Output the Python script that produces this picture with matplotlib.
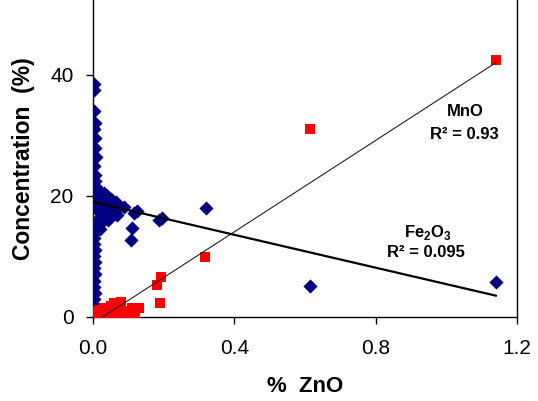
import matplotlib
matplotlib.use("Agg")
import matplotlib.pyplot as plt
import numpy as np

plt.rcParams["font.family"] = ["Liberation Sans", "DejaVu Sans"]
plt.rcParams["mathtext.fontset"] = "custom"
plt.rcParams["mathtext.rm"] = "Liberation Sans:bold"
plt.rcParams["mathtext.bf"] = "Liberation Sans:bold"

# Fe2O3 (blue diamonds)
fe_x = [0.003, 0.004, 0.003, 0.005, 0.004, 0.006, 0.005, 0.007, 0.004, 0.006,
        0.005, 0.008, 0.006, 0.004, 0.003, 0.005, 0.004, 0.006, 0.003, 0.005,
        0.004, 0.003, 0.005, 0.004, 0.003, 0.004, 0.002, 0.003,
        0.01, 0.015, 0.02, 0.025, 0.03, 0.035, 0.04, 0.045, 0.05, 0.055,
        0.01, 0.02, 0.03, 0.04, 0.05, 0.06, 0.012, 0.022, 0.032, 0.042,
        0.008, 0.018, 0.028, 0.015, 0.025, 0.01, 0.02, 0.065, 0.07,
        0.088, 0.117, 0.125, 0.188, 0.195, 0.11, 0.108, 0.068,
        0.321, 0.614, 1.14]
fe_y = [38.5, 37.5, 34.0, 32.0, 31.0, 29.5, 28.0, 26.5, 25.0, 23.5,
        22.5, 21.5, 14.0, 13.0, 12.0, 11.0, 10.0, 9.0, 8.0, 7.0,
        6.0, 5.0, 4.0, 3.0, 2.0, 1.0, 0.5, 15.0,
        20.5, 21.0, 20.0, 19.5, 20.5, 19.0, 20.0, 18.5, 19.5, 18.0,
        18.0, 17.5, 18.5, 17.0, 17.5, 17.0, 16.0, 15.5, 16.5, 16.0,
        19.0, 19.0, 17.0, 17.5, 16.5, 15.0, 14.5, 19.0, 18.0,
        18.2, 17.2, 17.5, 16.0, 16.3, 14.7, 12.7, 16.9,
        18.0, 5.1, 5.8]

# MnO (red squares)
mn_x = [0.002, 0.005, 0.01, 0.015, 0.02, 0.025, 0.03, 0.035, 0.04, 0.045,
        0.05, 0.055, 0.06, 0.065, 0.07, 0.075, 0.08, 0.09, 0.1, 0.11,
        0.12, 0.13, 0.01, 0.02, 0.03, 0.04, 0.05, 0.06, 0.07, 0.08,
        0.03, 0.045, 0.06, 0.075, 0.09, 0.115,
        0.18, 0.193, 0.19, 0.318, 0.614, 1.14]
mn_y = [0.3, 0.5, 0.2, 0.6, 0.4, 0.8, 0.3, 1.0, 0.5, 1.2,
        0.7, 1.5, 0.9, 1.8, 1.1, 2.0, 1.3, 1.0, 0.8, 1.4,
        1.0, 1.5, 1.0, 1.2, 1.5, 0.2, 1.8, 2.2, 0.1, 2.5,
        0.0, 0.3, 0.4, 0.2, 0.5, 0.6,
        5.3, 6.6, 2.3, 9.9, 31.1, 42.5]

# Trend lines (slope, intercept) and x extent
mn_fit = (37.8, -1.06)
fe_fit = (-13.6, 19.0)
fit_x = [0.0, 1.14]

x_ticks = [0.0, 0.4, 0.8, 1.2]
y_ticks = [0, 20, 40]

fig = plt.figure(figsize=(5.38, 4.01), dpi=100)
ax = fig.add_axes([0.173, 0.21, 0.788, 0.79])

ax.scatter(fe_x, fe_y, marker="D", s=52, color="#000080", zorder=3, linewidths=0)
ax.scatter(mn_x, mn_y, marker="s", s=50, color="#ff0000", zorder=3, linewidths=0)

fx = np.array(fit_x)
ax.plot(fx, mn_fit[0] * fx + mn_fit[1], color="#222222", lw=0.8, zorder=4)
ax.plot(fx, fe_fit[0] * fx + fe_fit[1], color="black", lw=1.6, zorder=4)

ax.set_xlim(0, 1.2)
ax.set_ylim(0, 52.4)
ax.set_xticks(x_ticks)
ax.set_xticklabels(["0.0", "0.4", "0.8", "1.2"])
ax.set_yticks(y_ticks)
ax.tick_params(axis="both", labelsize=15, direction="out", length=5, width=1)
ax.tick_params(axis="x", pad=11)
ax.tick_params(axis="y", pad=9)

ax.spines["top"].set_visible(False)
for s in ["left", "bottom", "right"]:
    ax.spines[s].set_linewidth(1.0)
    ax.spines[s].set_color("black")

ax.set_xlabel("%  ZnO", fontsize=16, fontweight="bold", labelpad=13)
ax.set_ylabel("Concentration  (%)", fontsize=16.5, fontweight="bold", labelpad=11)

ax.text(1.055, 33.9, "MnO", fontsize=12, fontweight="bold", ha="center", va="center")
ax.text(1.05, 30.2, "R² = 0.93", fontsize=12, fontweight="bold", ha="center", va="center")
ax.text(0.947, 14.0, "Fe$_2$O$_3$", fontsize=12, fontweight="bold", ha="center", va="center")
ax.text(0.942, 10.7, "R² = 0.095", fontsize=12, fontweight="bold", ha="center", va="center")

fig.savefig("out.png", dpi=100)
